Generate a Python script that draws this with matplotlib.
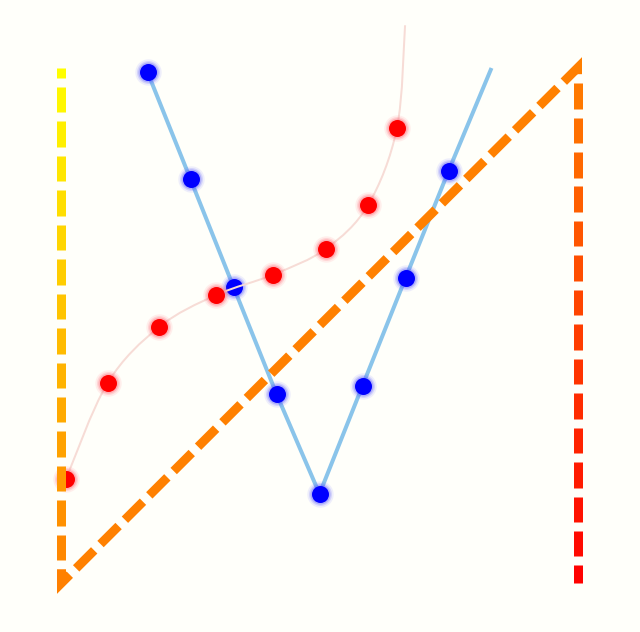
import numpy as np
import matplotlib
matplotlib.use("Agg")
import matplotlib.pyplot as plt
from matplotlib.path import Path
from matplotlib.patches import PathPatch

# ---- data ----
blue_x = [2, 3, 4, 5, 6, 7, 8, 9, 10]
blue_y = [99.2, 78.4, 57.5, 36.7, 17.3, 38.3, 59.2, 80.0, 100.0]

red_x = [0.10, 1.07, 2.27, 3.59, 4.93, 6.15, 7.13, 7.80, 7.99]
red_y = [20.1, 38.8, 49.7, 55.9, 59.9, 64.9, 73.4, 88.3, 108.3]

frame_x = [0, 0, 12, 12]
frame_y = [100, 0, 100, 0]

# ---- style ----
BG = "#fffffa"
BLUE_LINE = "#8ac4ea"
BLUE_MARK = "#0000ff"
RED_MARK = "#ff0000"
RED_CURVE = "#f7dcd6"

fig = plt.figure(figsize=(6.4, 6.32), dpi=100, facecolor=BG)
ax = fig.add_axes([0, 0, 1, 1])
ax.set_facecolor(BG)
ax.set_xlim(-61.5 / 43, (640 - 61.5) / 43)
ax.set_ylim((583 - 632) / 5.15, 583 / 5.15)
ax.axis("off")

PT = 0.72  # points per pixel at 100 dpi


def glow_markers(xs, ys, color, halo, z):
    for ms, a in [(19, 0.10), (16.5, 0.18), (14.5, 0.3)]:
        ax.plot(xs, ys, "o", ms=ms, color=halo, alpha=a, mew=0, zorder=z)
    ax.plot(xs, ys, "o", ms=17 * PT, color=color, mew=0, zorder=z + 0.1)


# blue series
ax.plot(blue_x, blue_y, color=BLUE_LINE, lw=4 * PT, zorder=1,
        solid_capstyle="butt")
glow_markers(blue_x[:-1], blue_y[:-1], BLUE_MARK, "#5a5aff", 2)

# red smooth curve (Catmull-Rom as cubic Bezier path)
P = np.column_stack([red_x, red_y])
Pe = np.vstack([P[0], P, P[-1]])
verts = [tuple(P[0])]
codes = [Path.MOVETO]
for i in range(1, len(Pe) - 2):
    p0, p1, p2, p3 = Pe[i - 1], Pe[i], Pe[i + 1], Pe[i + 2]
    c1 = p1 + (p2 - p0) / 6.0
    c2 = p2 - (p3 - p1) / 6.0
    verts += [tuple(c1), tuple(c2), tuple(p2)]
    codes += [Path.CURVE4] * 3
ax.add_patch(PathPatch(Path(verts, codes), fill=False, edgecolor=RED_CURVE,
                       lw=2 * PT, zorder=3))
glow_markers(red_x[:-1], red_y[:-1], RED_MARK, "#ff6070", 4)

# gradient dashed frame path (dashes built along the path in pixel space)
disp = ax.transData.transform(np.column_stack([frame_x, frame_y]))
seg = np.diff(disp, axis=0)
seglen = np.hypot(seg[:, 0], seg[:, 1])
cum = np.concatenate([[0], np.cumsum(seglen)])
L = cum[-1]
xmin, xmax = disp[:, 0].min(), disp[:, 0].max()
ymin, ymax = disp[:, 1].min(), disp[:, 1].max()


def point_at(s):
    i = min(np.searchsorted(cum, s, side="right") - 1, len(seg) - 1)
    f = (s - cum[i]) / seglen[i]
    return disp[i] + f * seg[i]


def grad_color(p):
    tx = (p[0] - xmin) / (xmax - xmin)
    ty = (ymax - p[1]) / (ymax - ymin)
    t = np.clip((tx + ty) / 2, 0, 1)
    return (1.0, 1.0 - t, 0.0)


dash, gap, offset = 25.5, 8.95, 15.5
period = dash + gap
s = -offset
inv = ax.transData.inverted()
while s < L:
    a, b = max(s, 0), min(s + dash, L)
    if b > a:
        pts = [point_at(a)]
        for k in range(1, len(cum) - 1):
            if a < cum[k] < b:
                pts.append(disp[k])
        pts.append(point_at(b))
        pts = np.array(pts)
        mid = point_at((a + b) / 2)
        d = inv.transform(pts)
        ax.plot(d[:, 0], d[:, 1], color=grad_color(mid), lw=9 * PT,
                solid_joinstyle="miter", solid_capstyle="butt", zorder=6)
    s += period

fig.savefig("out.png", dpi=100, facecolor=BG)
